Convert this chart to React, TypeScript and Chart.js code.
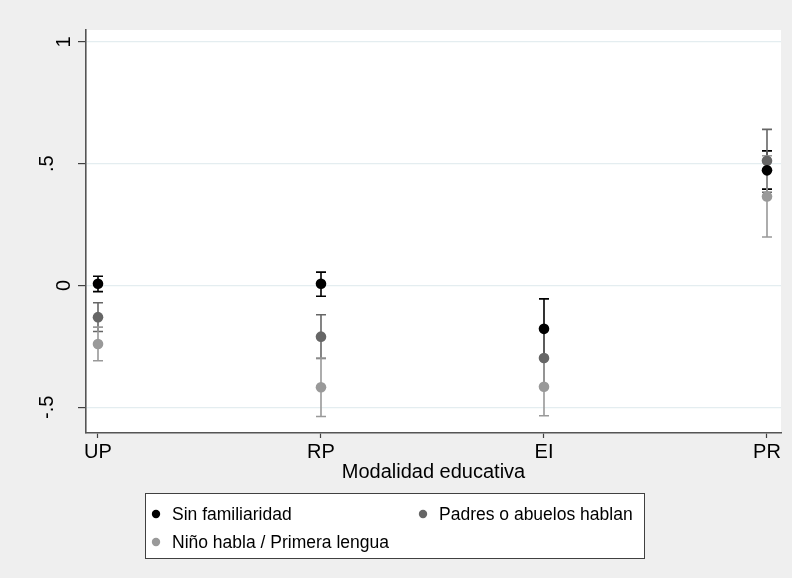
import React, { useEffect, useRef } from "react";
import { Chart, registerables } from "chart.js";

Chart.register(...registerables);

const categories = ["UP", "RP", "EI", "PR"];
const categoryPos = [1, 2, 3, 4];

const sinFam = [0.007, 0.007, -0.178, 0.473];
const sinFamLo = [-0.025, -0.044, -0.3, 0.396];
const sinFamHi = [0.038, 0.055, -0.055, 0.553];

const padres = [-0.13, -0.21, -0.298, 0.512];
const padresLo = [-0.189, -0.3, -0.418, 0.383];
const padresHi = [-0.071, -0.12, -0.178, 0.641];

const nino = [-0.24, -0.418, -0.416, 0.366];
const ninoLo = [-0.309, -0.538, -0.535, 0.199];
const ninoHi = [-0.171, -0.298, -0.297, 0.533];

const yTicks = [-0.5, 0, 0.5, 1];
const yTickLabels = ["-.5", "0", ".5", "1"];

const seriesNames = ["Sin familiaridad", "Padres o abuelos hablan", "Niño habla / Primera lengua"];
const seriesColors = ["#000000", "#666666", "#999999"];

const FONT = "'Liberation Sans', Arial, sans-serif";

export default function App() {
  const ref = useRef<HTMLCanvasElement | null>(null);

  useEffect(() => {
    document.body.style.margin = "0";
    const canvas = ref.current;
    if (!canvas) return;

    const series = [
      { v: sinFam, lo: sinFamLo, hi: sinFamHi },
      { v: padres, lo: padresLo, hi: padresHi },
      { v: nino, lo: ninoLo, hi: ninoHi },
    ];

    const bgPlugin = {
      id: "bg",
      beforeDraw(chart: any) {
        const { ctx, chartArea } = chart;
        ctx.save();
        ctx.fillStyle = "#efefef";
        ctx.fillRect(0, 0, chart.width, chart.height);
        ctx.fillStyle = "#ffffff";
        ctx.fillRect(chartArea.left, chartArea.top, chartArea.right - chartArea.left, chartArea.bottom - chartArea.top);
        ctx.restore();
      },
    };

    const errPlugin = {
      id: "errbars",
      beforeDatasetsDraw(chart: any) {
        const { ctx, scales } = chart;
        const xs = scales.x;
        const ys = scales.y;
        ctx.save();
        ctx.lineWidth = 1.6;
        series.forEach((s, si) => {
          ctx.strokeStyle = seriesColors[si];
          categoryPos.forEach((c, i) => {
            const x = xs.getPixelForValue(c);
            const y1 = ys.getPixelForValue(s.lo[i]);
            const y2 = ys.getPixelForValue(s.hi[i]);
            ctx.beginPath();
            ctx.moveTo(x, y1);
            ctx.lineTo(x, y2);
            ctx.moveTo(x - 5, y1);
            ctx.lineTo(x + 5, y1);
            ctx.moveTo(x - 5, y2);
            ctx.lineTo(x + 5, y2);
            ctx.stroke();
          });
        });
        ctx.restore();
      },
    };

    const labelPlugin = {
      id: "ylabels",
      afterDraw(chart: any) {
        const { ctx, scales } = chart;
        const ys = scales.y;
        ctx.save();
        ctx.fillStyle = "#000000";
        ctx.font = `20px ${FONT}`;
        ctx.textAlign = "center";
        ctx.textBaseline = "alphabetic";
        yTicks.forEach((t, i) => {
          const y = ys.getPixelForValue(t);
          const lbl = yTickLabels[i];
          const bx = lbl.includes(".") ? 53 : 70;
          ctx.save();
          ctx.translate(bx, y);
          ctx.rotate(-Math.PI / 2);
          ctx.fillText(lbl, 0, 0);
          ctx.restore();
        });

        // legend
        const lx = 145, ly = 493, lw = 500, lh = 66;
        ctx.fillStyle = "#ffffff";
        ctx.fillRect(lx, ly, lw, lh);
        ctx.strokeStyle = "#404040";
        ctx.lineWidth = 1;
        ctx.strokeRect(lx + 0.5, ly + 0.5, lw - 1, lh - 1);
        const items = [
          { x: 156, y: 514, tx: 172 },
          { x: 423, y: 514, tx: 439 },
          { x: 156, y: 542, tx: 172 },
        ];
        ctx.font = `17.5px ${FONT}`;
        ctx.textAlign = "left";
        ctx.textBaseline = "middle";
        items.forEach((it, i) => {
          ctx.fillStyle = seriesColors[i];
          ctx.beginPath();
          ctx.arc(it.x, it.y, 4.2, 0, Math.PI * 2);
          ctx.fill();
          ctx.fillStyle = "#000000";
          ctx.fillText(seriesNames[i], it.tx, it.y + 1);
        });
        ctx.restore();
      },
    };

    const chart = new Chart(canvas, {
      type: "scatter",
      data: {
        datasets: series.map((s, si) => ({
          label: seriesNames[si],
          data: categoryPos.map((c, i) => ({ x: c, y: s.v[i] })),
          backgroundColor: seriesColors[si],
          borderColor: seriesColors[si],
          pointRadius: 5.3,
          pointBorderWidth: 0,
          pointHoverRadius: 5.3,
        })),
      },
      options: {
        responsive: false,
        animation: false,
        events: [],
        layout: { padding: { left: 0, right: 11, top: 30, bottom: 94 } },
        plugins: {
          legend: { display: false },
          tooltip: { enabled: false },
          title: { display: false },
        },
        scales: {
          x: {
            type: "linear",
            min: 0.9462,
            max: 4.0628,
            afterBuildTicks: (s: any) => {
              s.ticks = categoryPos.map((v) => ({ value: v }));
            },
            afterFit: (s: any) => {
              s.height = 51;
            },
            ticks: {
              callback: (v: any) => {
                const idx = categoryPos.indexOf(Number(v));
                return idx >= 0 ? categories[idx] : "";
              },
              color: "#000000",
              font: { family: FONT, size: 20 },
              padding: 2,
              maxRotation: 0,
              minRotation: 0,
            },
            grid: {
              drawOnChartArea: false,
              drawTicks: true,
              tickLength: 5,
              tickColor: "#404040",
              tickWidth: 1.2,
            },
            border: { display: true, color: "#555555", width: 1.6 },
            title: {
              display: true,
              text: "Modalidad educativa",
              color: "#000000",
              font: { family: FONT, size: 20 },
              padding: { top: 0, bottom: 0 },
            },
          },
          y: {
            type: "linear",
            min: -0.6057,
            max: 1.0493,
            afterBuildTicks: (s: any) => {
              s.ticks = yTicks.map((v) => ({ value: v }));
            },
            afterFit: (s: any) => {
              s.width = 86;
            },
            ticks: { display: false },
            grid: {
              color: "#e4edf0",
              lineWidth: 1.2,
              drawTicks: true,
              tickLength: 8,
              tickColor: "#404040",
              tickWidth: 1.2,
            },
            border: { display: true, color: "#555555", width: 1.6 },
          },
        },
      },
      plugins: [bgPlugin, errPlugin, labelPlugin],
    });

    return () => chart.destroy();
  }, []);

  return (
    <div style={{ position: "fixed", left: 0, top: 0, width: 792, height: 578 }}>
      <canvas ref={ref} width={792} height={578} style={{ width: 792, height: 578 }} />
    </div>
  );
}
